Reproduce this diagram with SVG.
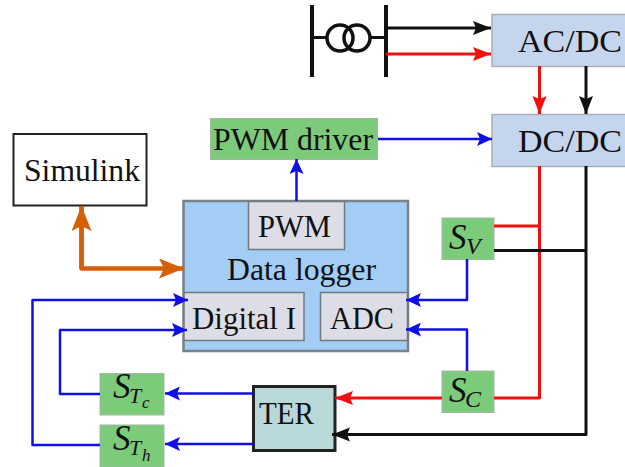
<svg xmlns="http://www.w3.org/2000/svg" width="625" height="467" viewBox="0 0 625 467">
<style>
text{font-family:"Liberation Serif","Times New Roman",serif;fill:#111;font-size:32px}
.i{font-style:italic;font-size:35px}
.sub{font-style:italic;font-size:24px}
.subt{font-style:italic;font-size:22px}
.subsub{font-style:italic;font-size:17px}
.conv{fill:#c6d5ee;stroke:#a9afb8;stroke-width:1.5}
.green{fill:#7bcb7b;stroke:#a3b8a3;stroke-width:1}
.inner{fill:#dcdde6;stroke:#727a80;stroke-width:1.5}
.c{fill:none;stroke-width:2.5;stroke-linejoin:round}
.blue{stroke:#1010e6}
.red{stroke:#f01010;stroke-width:3}
.black{stroke:#111;stroke-width:3}
.orange{stroke:#d65f0a;stroke-width:4.5}
</style>
<defs>
<marker id="ab" markerUnits="userSpaceOnUse" markerWidth="16" markerHeight="14" refX="15" refY="7" orient="auto"><path d="M0,0L15,7L0,14L3,7Z" fill="#1010e6"/></marker>
<marker id="ar" markerUnits="userSpaceOnUse" markerWidth="18" markerHeight="16" refX="18" refY="7" orient="auto"><path d="M0,0L18,7L0,14L3,7Z" fill="#f01010"/></marker>
<marker id="ak" markerUnits="userSpaceOnUse" markerWidth="18" markerHeight="16" refX="18" refY="7" orient="auto"><path d="M0,0L18,7L0,14L3,7Z" fill="#111"/></marker>
<marker id="ao" markerUnits="userSpaceOnUse" markerWidth="26" markerHeight="20" refX="25" refY="10" orient="auto"><path d="M0,0L25,10L0,20L5,10Z" fill="#d65f0a"/></marker>
</defs>
<g id="transformer" fill="none" stroke="#111">
<path d="M312,5V77M386,5V77" stroke-width="4"/>
<path d="M312,37.500H327M370,37.500H386" stroke-width="3"/>
<circle cx="340" cy="38" r="13" stroke-width="3.500"/>
<circle cx="357" cy="38" r="13" stroke-width="3.500"/>
</g>
<g id="acdc"><rect class="conv" x="492" y="14.500" width="134" height="52"/><text x="518" y="52" textLength="104" lengthAdjust="spacingAndGlyphs">AC/DC</text></g>
<g id="dcdc"><rect class="conv" x="492" y="114.500" width="134" height="52"/><text x="518" y="152" textLength="104" lengthAdjust="spacingAndGlyphs">DC/DC</text></g>
<g id="pwm-driver"><rect class="green" x="210.500" y="118.500" width="167" height="41"/><text x="213" y="150" textLength="160" lengthAdjust="spacingAndGlyphs">PWM driver</text></g>
<g id="simulink"><rect x="13.500" y="134" width="133" height="71.500" fill="#fff" stroke="#222" stroke-width="2"/><text x="24" y="181" textLength="116" lengthAdjust="spacingAndGlyphs">Simulink</text></g>
<g id="data-logger"><rect x="183.500" y="201" width="224.500" height="150" fill="#a3cdf5" stroke="#7a8288" stroke-width="2.500"/><text x="227" y="280" textLength="149" lengthAdjust="spacingAndGlyphs">Data logger</text></g>
<g id="pwm"><rect class="inner" x="248.500" y="201.500" width="96" height="48"/><text x="258" y="237" textLength="73" lengthAdjust="spacingAndGlyphs">PWM</text></g>
<g id="digital-i"><rect class="inner" x="184" y="292.500" width="120" height="48"/><text x="192" y="329" textLength="104" lengthAdjust="spacingAndGlyphs">Digital I</text></g>
<g id="adc"><rect class="inner" x="320.500" y="292.500" width="87" height="48"/><text x="330" y="329" textLength="64" lengthAdjust="spacingAndGlyphs">ADC</text></g>
<g id="sv"><rect class="green" x="442" y="218" width="52" height="41.500"/><text class="i" x="449" y="249">S</text><text class="sub" x="466" y="254">V</text></g>
<g id="sc"><rect class="green" x="442" y="371" width="52" height="41.500"/><text class="i" x="449" y="402">S</text><text class="sub" x="465" y="407">C</text></g>
<g id="stc"><rect class="green" x="100" y="373.500" width="64" height="41.500"/><text class="i" x="113" y="398">S</text><text class="subt" x="129" y="403">T</text><text class="subsub" x="142" y="408">c</text></g>
<g id="sth"><rect class="green" x="100" y="425" width="64" height="42"/><text class="i" x="113" y="450">S</text><text class="subt" x="129" y="455">T</text><text class="subsub" x="142" y="461">h</text></g>
<g id="ter"><rect x="253.500" y="386.500" width="81.500" height="64" fill="#b8d8da" stroke="#222" stroke-width="3"/><text x="259" y="424" textLength="55" lengthAdjust="spacingAndGlyphs">TER</text></g>
<g id="connectors">
<path class="c black" d="M386,28H491" marker-end="url(#ak)"/>
<path class="c red" d="M386,54H491" marker-end="url(#ar)"/>
<path class="c red" d="M539.500,66V114" marker-end="url(#ar)"/>
<path class="c black" d="M586,66V114" marker-end="url(#ak)"/>
<path class="c blue" d="M378,139H492" marker-end="url(#ab)"/>
<path class="c blue" d="M296.500,201V159" marker-end="url(#ab)"/>
<path class="c orange" d="M81.500,207V268.500H184" marker-end="url(#ao)"/>
<path class="c orange" d="M81.500,268.500V206" marker-end="url(#ao)"/>
<path class="c blue" d="M100,445H32.500V300H188" marker-end="url(#ab)"/>
<path class="c blue" d="M100,394H60V330H187" marker-end="url(#ab)"/>
<path class="c blue" d="M253,393.500H165" marker-end="url(#ab)"/>
<path class="c blue" d="M253,444H165" marker-end="url(#ab)"/>
<path class="c blue" d="M467,259V300H406" marker-end="url(#ab)"/>
<path class="c blue" d="M467,371V329.500H406" marker-end="url(#ab)"/>
<path class="c red" d="M539.500,166V398H494"/>
<path class="c red" d="M442,398H335" marker-end="url(#ar)"/>
<path class="c red" d="M494,226H539.500"/>
<path class="c black" d="M586,166V434.500H332" marker-end="url(#ak)"/>
<path class="c black" d="M494,250.500H586"/>
</g>
</svg>
